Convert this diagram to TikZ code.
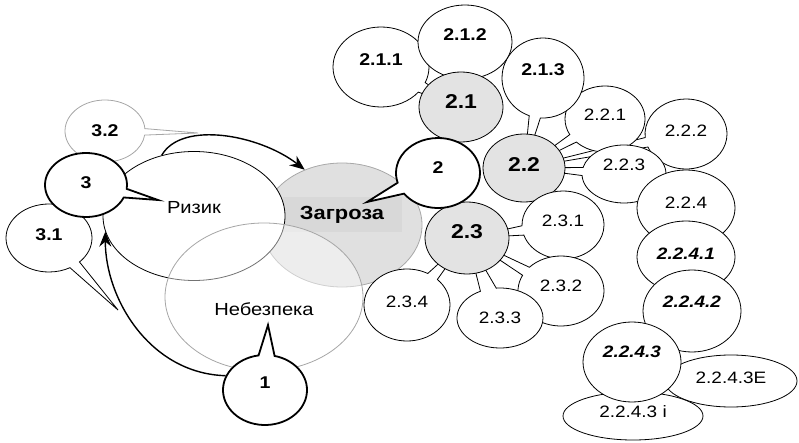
\documentclass[tikz,border=0pt]{standalone}
\usepackage{fontspec}
\setmainfont{Liberation Sans}[FakeStretch=1.15]
\usetikzlibrary{shapes.geometric,shapes.callouts,arrows.meta}
\definecolor{hubgray}{HTML}{E3E3E3}
\definecolor{zagfill}{HTML}{E0E0E0}
\definecolor{zagline}{HTML}{A8A8A8}
\definecolor{zagrect}{HTML}{D8D8D8}
\definecolor{lightline}{HTML}{A6A6A6}
\newcommand\dgsm{\fontsize{16.5}{19}\selectfont}
\newcommand\dgbold{\bfseries\fontsize{17}{20}\selectfont}
\newcommand\dgbig{\bfseries\fontsize{20}{23}\selectfont}
\newcommand\dgbi{\bfseries\itshape\fontsize{16.5}{19}\selectfont}
\newcommand\dgmid{\fontsize{17.5}{20}\selectfont}
\newcommand\dgzag{\bfseries\fontsize{19}{22}\selectfont}
\tikzset{>={Stealth[length=15pt,width=12pt,inset=5pt]}}
\tikzset{
  sz/.style 2 args={minimum width=#1pt,minimum height=#2pt},
  lift/.style={text depth=#1pt},
  ptr/.style={callout absolute pointer={(#1)}},
  oval/.style={ellipse,draw,line width=0.8pt,fill=white,inner sep=0pt,font=\dgsm},
  bub/.style={ellipse callout,draw,line width=0.8pt,fill=white,inner sep=0pt,font=\dgsm,callout pointer arc=16},
  thickbub/.style={bub,line width=1.8pt,font=\dgbold},
  hub/.style={ellipse,draw,line width=0.8pt,fill=hubgray,inner sep=0pt,font=\dgbig},
  arr/.style={->,line width=1.4pt},
}

\begin{document}
\begin{tikzpicture}[x=1pt,y=-1pt]
	\useasboundingbox (0,0) rectangle (799,443);
	% centres and free ends of the pointers
	\coordinate (c21) at (461,107);
	\coordinate (c22) at (524,168);
	\coordinate (c23) at (467,238);
	\coordinate (t1) at (268,325);
	\coordinate (t2) at (367,202);
	\coordinate (t3) at (158,200);
	\coordinate (t31) at (118,310);
	\coordinate (t32) at (198,133);

	% left part
	\node[ellipse,draw=zagline,fill=zagfill,line width=0.8pt,sz={160}{124}] (zagroza) at (342,225) {};
	\node[fill=zagrect,inner sep=0pt,sz={119}{35},font=\dgzag] (zagtxt) at (342,215) {Загроза};
	\node[bub,draw=lightline,font=\dgbold,sz={80}{62},ptr=t32,callout pointer arc=12] (n32) at (105,131) {3.2};
	\node[oval,font=\dgmid,sz={182}{129},lift=18] (rizyk) at (194,216) {Ризик};
	\node[ellipse,draw=lightline,fill=white,fill opacity=0.45,text opacity=1,line width=0.8pt,inner sep=0pt,font=\dgmid,sz={198}{148},text height=38pt] (nebezpeka) at (264,297) {Небезпека};
	\node[bub,font=\dgbold,sz={86}{68},ptr=t31,lift=6] (n31) at (49,238) {3.1};
	\node[thickbub,sz={82}{64},ptr=t3,lift=4] (n3) at (86,185) {3};
	\node[thickbub,sz={84}{70},ptr=t1,lift=14,callout pointer arc=22] (n1) at (265,390) {1};

	% right part
	\node[bub,sz={82}{70},ptr=c22,lift=6] (n222) at (686,134) {2.2.2};
	\node[bub,sz={80}{66},ptr=c22,lift=8] (n221) at (605,119) {2.2.1};
	\node[bub,sz={84}{58},ptr=c22,lift=18] (n223) at (624,174) {2.2.3};
	\node[oval,sz={98}{76},lift=10] (n224) at (686,208) {2.2.4};
	\node[oval,font=\dgbi,sz={98}{72},lift=6] (n2241) at (686,257) {2.2.4.1};
	\node[oval,font=\dgbi,sz={98}{82},lift=18] (n2242) at (692,311) {2.2.4.2};
	\node[oval,sz={140}{48},lift=8] (n2243i) at (633,416) {2.2.4.3 i};
	\node[oval,sz={132}{52},lift=6] (n2243e) at (731,381) {2.2.4.3E};
	\node[oval,font=\dgbi,sz={98}{80},lift=20] (n2243) at (632,362) {2.2.4.3};

	\node[bub,font=\dgbold,sz={96}{80},ptr=c21,lift=14] (n211) at (381,67) {2.1.1};
	\node[bub,font=\dgbold,sz={82}{80},ptr=c22,lift=16] (n213) at (543,78) {2.1.3};
	\node[oval,font=\dgbold,sz={94}{74},lift=14] (n212) at (465,42) {2.1.2};
	\node[hub,sz={84}{70},lift=10] (n21) at (c21) {2.1};
	\node[hub,sz={82}{68},lift=6] (n22) at (c22) {2.2};

	\node[bub,sz={82}{68},ptr=c23,lift=8] (n231) at (563,225) {2.3.1};
	\node[bub,sz={86}{70},ptr=c23,lift=10] (n232) at (561,291) {2.3.2};
	\node[bub,sz={86}{60},ptr=c23,callout pointer arc=22] (n233) at (500,318) {2.3.3};
	\node[bub,sz={86}{72},ptr=c23,lift=6] (n234) at (407,305) {2.3.4};
	\node[hub,sz={84}{72},lift=12] (n23) at (c23) {2.3};
	\node[thickbub,sz={84}{70},ptr=t2,lift=10,callout pointer arc=20] (n2) at (438,173) {2};

	\draw[arr] (rizyk.118) .. controls +(20,-35) and +(-45,-35) .. (zagroza.124);
	\draw[arr] (n1.160) .. controls +(-75,-2) and +(0,68) .. (rizyk.190);
\end{tikzpicture}
\end{document}
